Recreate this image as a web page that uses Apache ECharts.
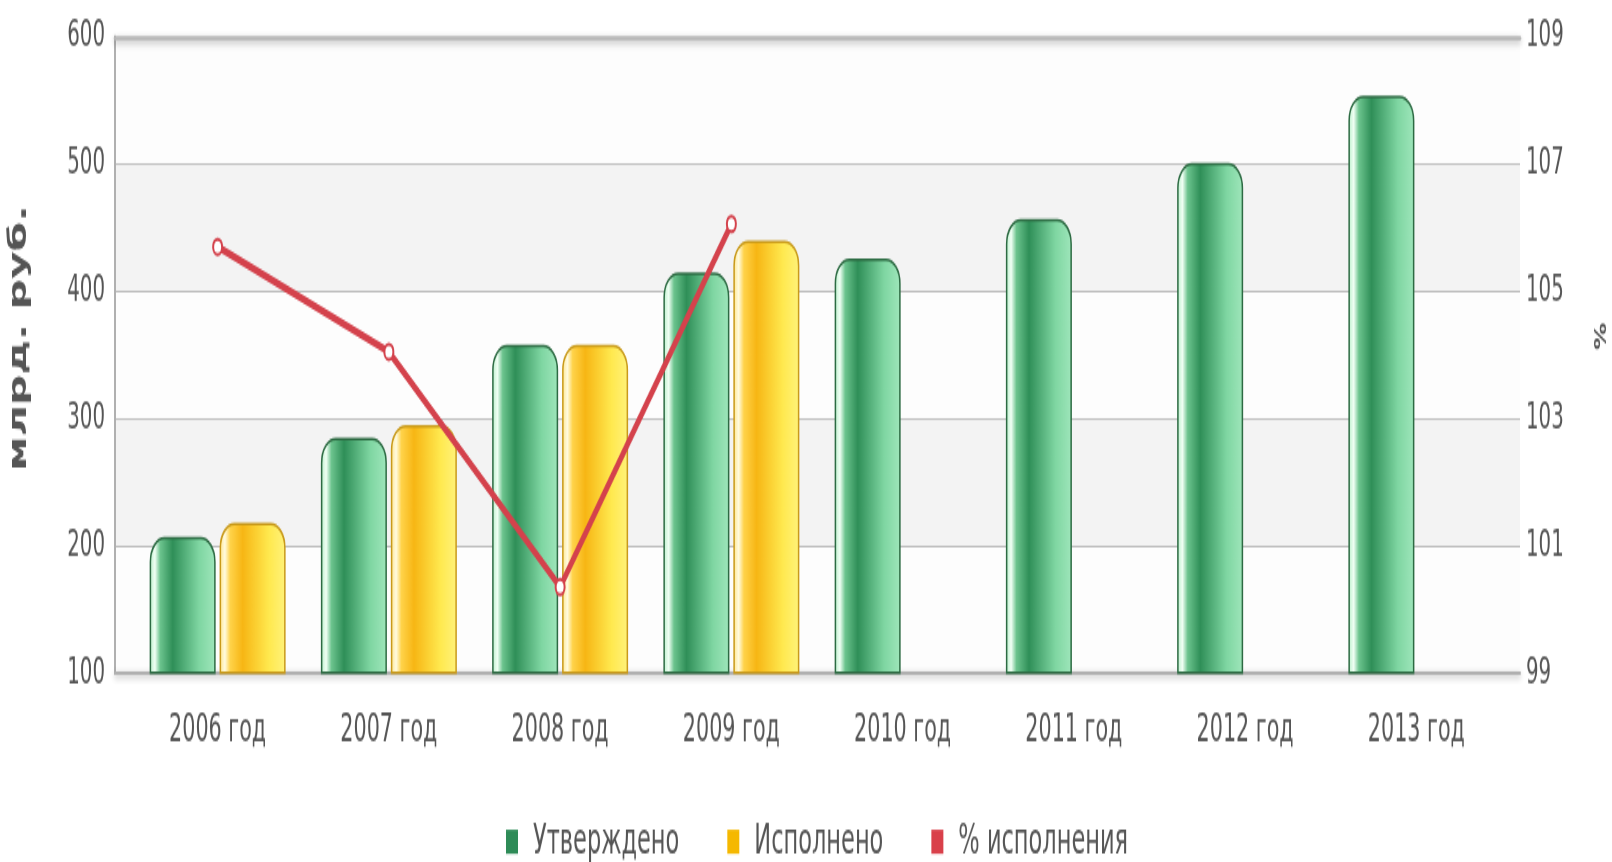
<!DOCTYPE html>
<html><head><meta charset="utf-8">
<script src="https://cdn.jsdelivr.net/npm/echarts@6/dist/echarts.min.js"></script>
<style>html,body{margin:0;padding:0;background:#fff;overflow:hidden}
#wrap{width:1612px;height:862px;overflow:hidden}
#c{width:1612px;transform-origin:0 0}</style>
</head><body><div id="wrap"><div id="c"></div></div>
<script>
const categories = ['2006 год','2007 год','2008 год','2009 год','2010 год','2011 год','2012 год','2013 год'];
const approved = [207, 285, 358, 415, 426, 457, 501, 554];
const executed = [218, 295, 358, 440, null, null, null, null];
const percent = [105.7, 104.05, 100.35, 106.06, null, null, null, null];
const leftTicks = {min: 100, max: 600, interval: 100};
const rightTicks = {min: 99, max: 109, interval: 2};
const seriesNames = ['Утверждено', 'Исполнено', '% исполнения'];

// the reference picture is stretched vertically; reproduce with a vertical scale of the whole canvas
const S = 1.7;
const el = document.getElementById('c');
el.style.height = (862 / S) + 'px';
el.style.transform = 'scaleY(' + S + ')';
const Y = v => v / S;

const FONT = '"DejaVu Sans Condensed", "Liberation Sans Narrow", sans-serif';
const TXT = '#555';
const chart = echarts.init(el);
const greenGrad = new echarts.graphic.LinearGradient(0,0,1,0,[
  {offset:0,color:'#b8efc9'},{offset:0.08,color:'#f0fff4'},{offset:0.16,color:'#6cc48e'},
  {offset:0.35,color:'#2f8f58'},{offset:0.75,color:'#7fd6a2'},{offset:1,color:'#9fe6bb'}]);
const yellowGrad = new echarts.graphic.LinearGradient(0,0,1,0,[
  {offset:0,color:'#ffe58a'},{offset:0.08,color:'#fffbe0'},{offset:0.16,color:'#ffd34a'},
  {offset:0.35,color:'#f7b614'},{offset:0.75,color:'#ffe94f'},{offset:1,color:'#fff27a'}]);

chart.setOption({
  animation: false,
  grid: [
    {left: 115, right: 92, top: Y(37), bottom: Y(189)},
    {left: 132, right: 110, top: Y(37), bottom: Y(189)}
  ],
  legend: {
    left: 501, top: Y(812), itemGap: 48, itemWidth: 12, itemHeight: Y(24), icon: 'rect',
    textStyle: {fontFamily: FONT, fontSize: 25, color: TXT, padding: [0, 0, 0, 10]},
    data: [
      {name: seriesNames[0], itemStyle: {color: '#2e8b57', borderWidth: 0}},
      {name: seriesNames[1], itemStyle: {color: '#f5b800', borderWidth: 0}},
      {name: seriesNames[2], itemStyle: {color: '#d9404a', borderWidth: 0}, lineStyle: {opacity: 0}}
    ]
  },
  xAxis: [
    {gridIndex: 0, type: 'value', min: 0, max: 1, position: 'bottom',
     axisLine: {show: true, lineStyle: {color: '#b0b0b0', width: 2, shadowColor: 'rgba(0,0,0,0.3)', shadowBlur: 4, shadowOffsetY: 1.5}},
     axisTick: {show: false}, axisLabel: {show: false}, splitLine: {show: false}},
    {gridIndex: 0, type: 'value', min: 0, max: 1, position: 'top',
     axisLine: {show: true, lineStyle: {color: '#b8b8b8', width: 2.5, shadowColor: 'rgba(0,0,0,0.3)', shadowBlur: 4, shadowOffsetY: 1.5}},
     axisTick: {show: false}, axisLabel: {show: false}, splitLine: {show: false}},
    {gridIndex: 1, type: 'category', data: categories, position: 'bottom',
     axisLine: {show: false}, axisTick: {show: false},
     axisLabel: {fontFamily: FONT, fontSize: 23, color: TXT, margin: 22.5}}
  ],
  yAxis: [
    {gridIndex: 0, type: 'value', min: leftTicks.min, max: leftTicks.max, interval: leftTicks.interval, position: 'left',
     axisLine: {show: true, lineStyle: {color: '#a8a8a8', width: 2}},
     axisTick: {show: false},
     axisLabel: {fontFamily: FONT, fontSize: 22, color: TXT, margin: 10},
     splitLine: {show: true, lineStyle: {color: '#bdbdbd', width: 1.2}},
     splitArea: {show: true, areaStyle: {color: ['#fdfdfd', '#f3f3f3']}}},
    {gridIndex: 0, type: 'value', min: rightTicks.min, max: rightTicks.max, interval: rightTicks.interval, position: 'right',
     axisLine: {show: true, lineStyle: {color: '#b0b0b0', width: 2}},
     axisTick: {show: false},
     axisLabel: {fontFamily: FONT, fontSize: 22, color: TXT, margin: 6},
     splitLine: {show: false}},
    {gridIndex: 1, type: 'value', min: leftTicks.min, max: leftTicks.max, interval: leftTicks.interval, show: false, splitLine: {show: false}},
    {gridIndex: 1, type: 'value', min: rightTicks.min, max: rightTicks.max, interval: rightTicks.interval, show: false, splitLine: {show: false}}
  ],
  series: [
    {name: seriesNames[0], type: 'bar', xAxisIndex: 2, yAxisIndex: 2, data: approved,
     barWidth: 66, barGap: '6%',
     itemStyle: {color: greenGrad, borderColor: '#2d6b43', borderWidth: 1.5, borderRadius: [14,14,0,0]}},
    {name: seriesNames[1], type: 'bar', xAxisIndex: 2, yAxisIndex: 2, data: executed,
     barWidth: 66, barGap: '6%',
     itemStyle: {color: yellowGrad, borderColor: '#c99a1a', borderWidth: 1.5, borderRadius: [14,14,0,0]}},
    {name: seriesNames[2], type: 'line', xAxisIndex: 2, yAxisIndex: 3, data: percent,
     symbol: 'emptyCircle', symbolSize: 9, z: 5,
     lineStyle: {color: '#d4424c', width: 4.5},
     itemStyle: {color: '#d4424c', borderColor: '#d4424c', borderWidth: 2}}
  ],
  graphic: [
    {type: 'text', x: 19, y: Y(338), rotation: Math.PI/2,
     style: {text: 'млрд. руб.', fontFamily: '"DejaVu Sans", sans-serif', fontWeight: 'bold', fontSize: 25, fill: TXT, align: 'center', verticalAlign: 'middle'}},
    {type: 'text', x: 1598, y: Y(336), rotation: -Math.PI/2,
     style: {text: '%', fontFamily: '"DejaVu Sans", sans-serif', fontWeight: 'bold', fontSize: 16, fill: TXT, align: 'center', verticalAlign: 'middle'}}
  ]
});
</script></body></html>
